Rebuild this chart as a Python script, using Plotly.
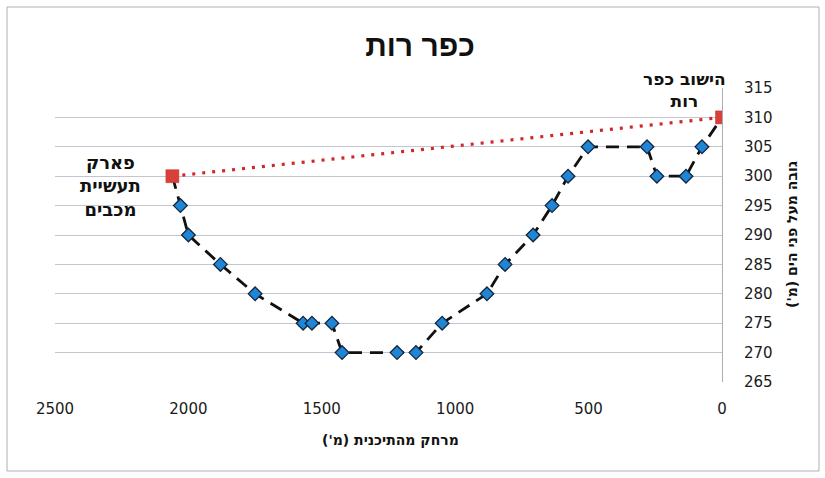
import plotly.graph_objects as go

# ---- data ----
profile_dist = [2030, 2000, 1880, 1750, 1570, 1537, 1462, 1424, 1218, 1147,
                1049, 881, 813, 708, 637, 577, 502, 281, 244, 135, 75]
profile_elev = [295, 290, 285, 280, 275, 275, 275, 270, 270, 270,
                275, 280, 285, 290, 295, 300, 305, 305, 300, 300, 305]
endpoint_dist = [2060, 0]
endpoint_elev = [300, 310]
endpoint_names = ["פארק תעשיית מכבים", "הישוב כפר רות"]
x_ticks = [0, 500, 1000, 1500, 2000, 2500]
y_ticks = list(range(265, 320, 5))

title_text = "כפר רות"
x_title = "מרחק מהתיכנית (מ')\u200f"
y_title = "גובה מעל פני הים (מ')\u200f"

RLM = "\u200f"

# full dashed path: left endpoint, profile, right endpoint
line_x = [endpoint_dist[0]] + profile_dist + [endpoint_dist[1]]
line_y = [endpoint_elev[0]] + profile_elev + [endpoint_elev[1]]

fig = go.Figure()

# straight red dotted line between endpoints
fig.add_trace(go.Scatter(
    x=endpoint_dist, y=endpoint_elev, mode="lines",
    line=dict(color="#d0282a", width=3.2, dash="3px,7px"),
    hoverinfo="skip", showlegend=False))

# dashed black profile line
fig.add_trace(go.Scatter(
    x=line_x, y=line_y, mode="lines",
    line=dict(color="#111111", width=2.8, dash="13px,8px"),
    hoverinfo="skip", showlegend=False))

# blue diamonds
fig.add_trace(go.Scatter(
    x=profile_dist, y=profile_elev, mode="markers",
    marker=dict(symbol="diamond", size=10.5, color="#1f86d6",
                line=dict(color="#14263f", width=1.3)),
    showlegend=False))

# red squares at endpoints
fig.add_trace(go.Scatter(
    x=endpoint_dist, y=endpoint_elev, mode="markers",
    marker=dict(symbol="square", size=13, color="#d9403a",
                line=dict(color="#c23028", width=0.5)),
    text=endpoint_names, showlegend=False))

W, H = 825, 478
L, R, T, B = 55, 103, 88, 96
pw, ph = W - L - R, H - T - B


def px(xp):
    return (xp - L) / pw


def py(yp):
    return (H - B - yp) / ph


fig.update_layout(
    width=W, height=H,
    margin=dict(l=L, r=R, t=T, b=B),
    paper_bgcolor="white", plot_bgcolor="white",
    title=dict(text="<b>" + title_text + "</b>", x=420 / W, xanchor="center",
               y=1 - 45 / H, yanchor="middle",
               font=dict(family="Liberation Sans", size=30, color="#111111")),
    xaxis=dict(range=[2500, 0], tickvals=x_ticks, showgrid=False,
               zeroline=False, showline=False, ticks="",
               ticklabelstandoff=16,
               tickfont=dict(family="DejaVu Sans", size=15, color="#1a1a1a")),
    yaxis=dict(range=[265, 315], tickvals=y_ticks, side="right",
               showgrid=True, gridcolor="#c3c6d0", gridwidth=1,
               zeroline=False, showline=True, linecolor="#a9adb6",
               linewidth=1, ticks="", ticklabelstandoff=18,
               tickfont=dict(family="DejaVu Sans", size=15, color="#1a1a1a")),
    font=dict(family="DejaVu Sans"),
    shapes=[dict(type="rect", xref="paper", yref="paper",
                 x0=px(7), x1=px(819), y0=py(471), y1=py(7),
                 line=dict(color="#b0b0b0", width=1))],
    annotations=[
        dict(text="<b>פארק" + RLM + "<br>תעשיית" + RLM + "<br>מכבים" + RLM + "</b>",
             xref="paper", yref="paper", x=px(110), y=py(186),
             xanchor="center", yanchor="middle", showarrow=False,
             align="center",
             font=dict(family="DejaVu Sans", size=18, color="#111111")),
        dict(text="<b>הישוב כפר" + RLM + "<br>רות" + RLM + "</b>",
             xref="paper", yref="paper", x=px(684), y=py(90),
             xanchor="center", yanchor="middle", showarrow=False,
             align="center",
             font=dict(family="DejaVu Sans", size=17, color="#111111")),
        dict(text="<b>" + x_title + "</b>", xref="paper", yref="paper",
             x=px(390), y=py(440), xanchor="center", yanchor="middle",
             showarrow=False,
             font=dict(family="DejaVu Sans", size=14, color="#111111")),
        dict(text="<b>" + y_title + "</b>", xref="paper", yref="paper",
             x=px(792), y=py(235), xanchor="center", yanchor="middle",
             showarrow=False, textangle=-90,
             font=dict(family="DejaVu Sans", size=14, color="#111111")),
    ],
)

fig.write_html("out.html")
